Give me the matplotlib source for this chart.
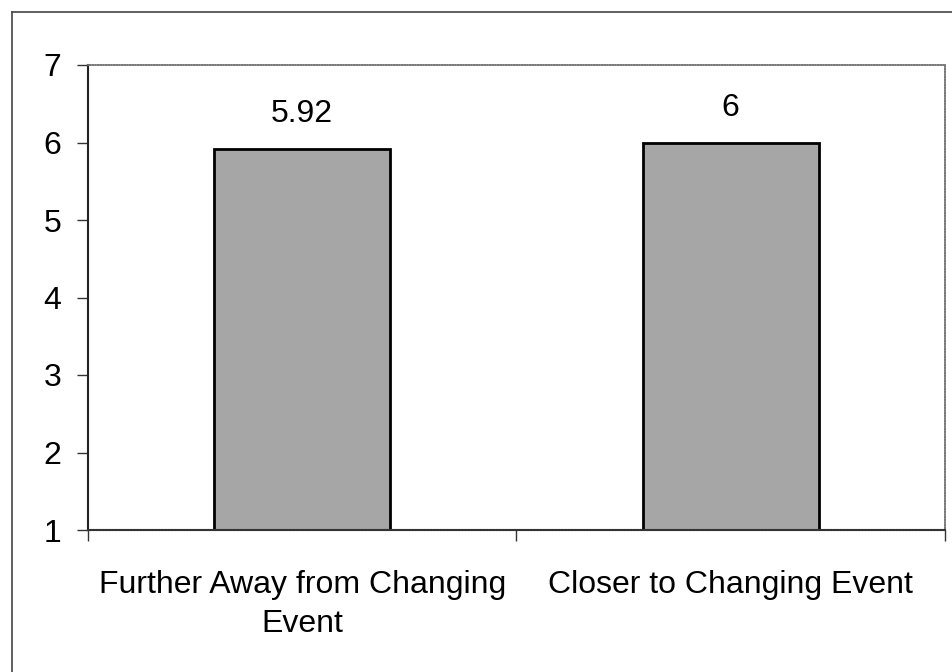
import matplotlib
matplotlib.use("Agg")
import matplotlib.pyplot as plt
from matplotlib.lines import Line2D

plt.rcParams.update({
    "font.family": ["Liberation Sans", "DejaVu Sans"],
    "font.size": 23,
})

# data
categories = ["Further Away from Changing\nEvent", "Closer to Changing Event"]
values = [5.92, 6]
value_labels = ["5.92", "6"]
yticks = [1, 2, 3, 4, 5, 6, 7]

fig = plt.figure(figsize=(9.53, 6.72), dpi=100)
ax = fig.add_axes([88/953, 1-530/672, 857/953, 465/672])

x = list(range(len(categories)))
heights = [v - 1 for v in values]
ax.bar(x, heights, bottom=1, width=0.41, color="#a6a6a6",
       edgecolor="black", linewidth=2, zorder=2)

for xi, v, lab in zip(x, values, value_labels):
    ax.text(xi, v + 0.25, lab, ha="center", va="bottom", fontsize=23)

ax.set_xlim(-0.5, 1.5)
ax.set_ylim(1, 7)
ax.set_yticks(yticks)

# category labels centered, ticks on category boundaries
ax.set_xticks([-0.5, 0.5, 1.5])
ax.set_xticklabels([])
ax.set_xticks(x, minor=True)
ax.set_xticklabels(categories, minor=True, fontsize=23, linespacing=1.4)
ax.tick_params(axis="x", which="minor", length=0, pad=29)
ax.tick_params(axis="x", which="major", length=8, width=1, direction="out", color="#333333")
ax.tick_params(axis="y", length=8, width=1, direction="out", pad=11, labelsize=23, color="#333333")

ax.spines["left"].set_color("#222222")
ax.spines["left"].set_linewidth(1.5)
ax.spines["bottom"].set_color("#333333")
ax.spines["bottom"].set_linewidth(1.5)
ax.spines["bottom"].set_linestyle((0, (1, 0.5)))
for s in ["top", "right"]:
    ax.spines[s].set_color("#777777")
    ax.spines[s].set_linewidth(1.2)
    ax.spines[s].set_linestyle((0, (1, 0.6)))

# outer chart frame (left and top edges visible)
fig.add_artist(Line2D([12/953, 12/953], [0, 1-12/672], color="#444444", linewidth=1.2))
fig.add_artist(Line2D([12/953, 1], [1-12/672, 1-12/672], color="#444444", linewidth=1.2))

fig.savefig("out.png", dpi=100)
